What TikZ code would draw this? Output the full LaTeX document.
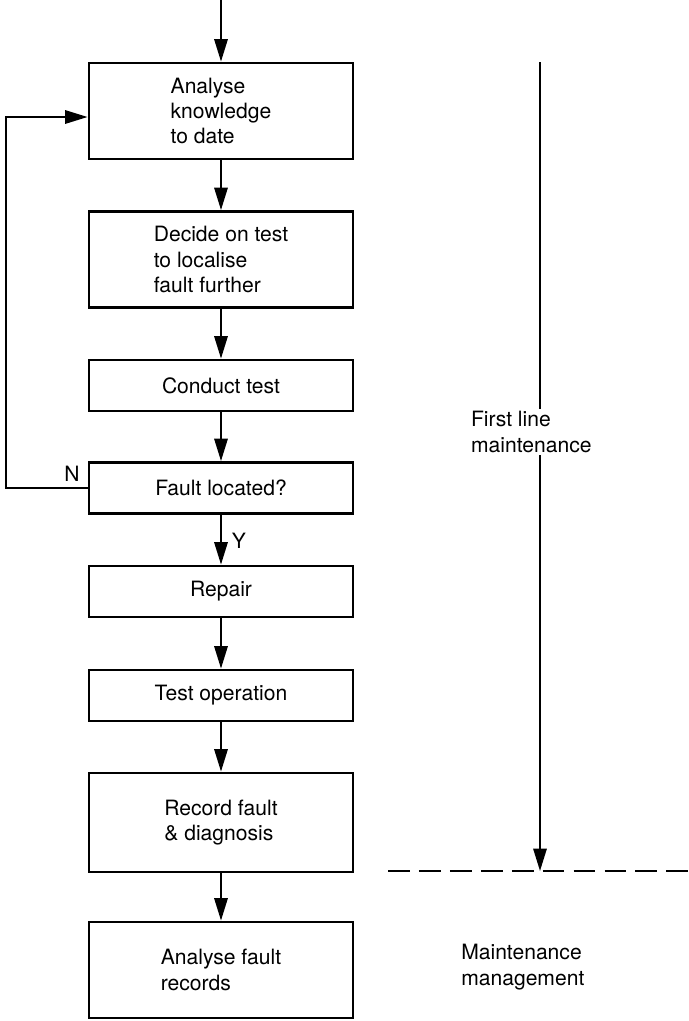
\documentclass[tikz,border=0pt]{standalone}
\usepackage{fontspec}
\setmainfont{TeX Gyre Heros}
\usepackage{tikz}
\usetikzlibrary{arrows.meta, positioning, calc}

\begin{document}
\begin{tikzpicture}[
  x=0.025cm, y=-0.025cm,
  box/.style={rectangle, draw=black, line width=2pt, fill=white,
              minimum width=6.6cm, minimum height=1.275cm, align=left,
              font=\fontsize{15}{18}\selectfont, inner sep=0pt},
  tall/.style={box, minimum height=2.4cm},
  arr/.style={-{Triangle[length=16pt, width=9.5pt]}, line width=1.5pt},
  lbl/.style={font=\fontsize{15}{18}\selectfont, inner sep=0pt},
  side/.style={lbl, align=left, fill=white, inner sep=2pt}
]
\useasboundingbox (0,0) rectangle (689,1021);

\node[tall] (an) at (221,111)   {Analyse\\knowledge\\to date};
\node[tall] (de) at (221,259.5) {Decide on test\\to localise\\fault further};
\node[box]  (ct) at (221,385.5) {Conduct test};
\node[box]  (fl) at (221,488)   {Fault located?};
\node[box]  (rp) at (221,591.5) {Repair};
\node[box]  (to) at (221,695.5) {Test operation};
\node[tall, minimum height=2.475cm] (rf) at (221,822.5) {Record fault\\\& diagnosis};
\node[tall] (af) at (221,970)   {Analyse fault\\records};

\coordinate (in) at (221,0);
\draw[arr] (in) -- (an);
\draw[arr] (an) -- (de);
\draw[arr] (de) -- (ct);
\draw[arr] (ct) -- (fl);
\draw[arr] (fl) -- (rp);
\draw[arr] (rp) -- (to);
\draw[arr] (to) -- (rf);
\draw[arr] (rf) -- (af);
\draw[arr] (fl.west) -- ++(-82,0) |- ([yshift=-0.15cm]an.west);

\node[lbl] (no)  at (72,474)  {N};
\node[lbl] (yes) at (239,541) {Y};

\coordinate (fTop) at (540,62);
\coordinate (fEnd) at (540,871);
\coordinate (dL) at (388,871);
\coordinate (dR) at (689,871);
\draw[arr] (fTop) -- (fEnd);
\draw[line width=1.6pt, dash pattern=on 15.5pt off 6.5pt] (dL) -- (dR);
\node[side, anchor=west] (first) at (468,432) {First line\\maintenance};
\node[lbl, align=left, anchor=west] (mgmt) at (461,967) {Maintenance\\management};
\end{tikzpicture}
\end{document}
